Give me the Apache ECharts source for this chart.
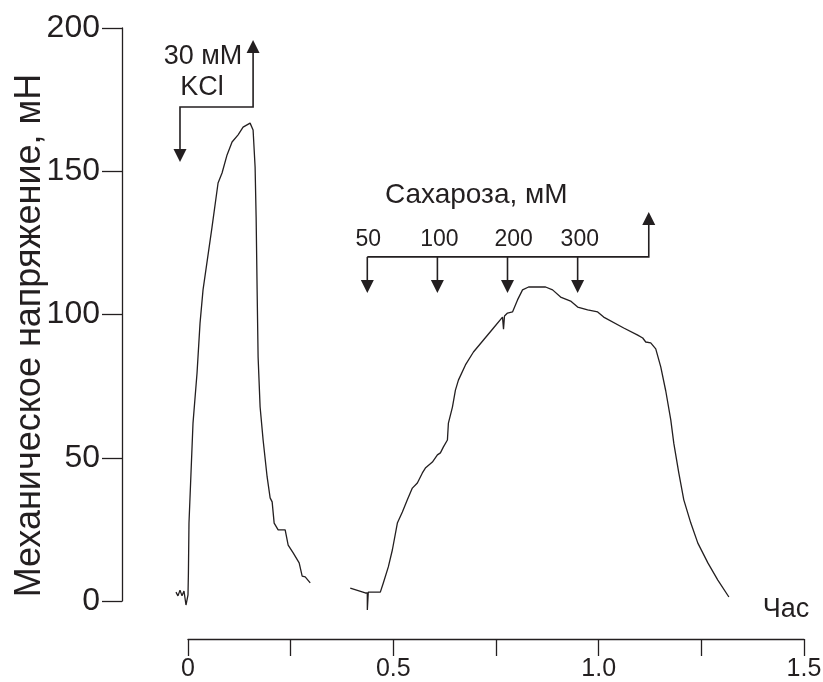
<!DOCTYPE html>
<html>
<head>
<meta charset="utf-8">
<script src="https://cdn.jsdelivr.net/npm/echarts@6/dist/echarts.min.js"></script>
<style>html,body{margin:0;padding:0;background:#fff}#c{width:823px;height:682px}</style>
</head>
<body>
<div id="c"></div>
<script>
// ---- data (time in hours, force in mN) ----
const kclTime = [-0.0293,-0.0244,-0.0195,-0.0146,-0.0098,-0.0049,0.0000,0.0010,0.0024,0.0073,0.0122,0.0220,0.0293,0.0366,0.0585,0.0732,0.0829,0.0951,0.1073,0.1220,0.1341,0.1512,0.1537,0.1585,0.1634,0.1659,0.1683,0.1707,0.1756,0.1829,0.1927,0.2000,0.2049,0.2098,0.2195,0.2366,0.2439,0.2561,0.2707,0.2780,0.2854,0.2976];
const kclForce = [3.1,1.8,3.8,1.8,3.5,-1.4,2.1,9.8,27.2,44.7,62.1,79.6,97.0,108.6,130.5,145.9,149.4,155.7,160.2,162.7,165.4,166.8,166.8,164.4,151.5,134.0,108.6,85.2,67.7,56.2,43.3,36.0,34.6,27.2,24.8,24.8,19.5,16.8,13.3,8.7,8.4,6.3];

const sucTime = [0.3951,0.4317,0.4366,0.4367,0.4390,0.4683,0.4756,0.4878,0.4976,0.5098,0.5220,0.5341,0.5463,0.5585,0.5707,0.5780,0.5951,0.6073,0.6146,0.6220,0.6317,0.6341,0.6439,0.6512,0.6585,0.6756,0.6951,0.7195,0.7439,0.7659,0.7683,0.7707,0.7780,0.7902,0.8024,0.8146,0.8293,0.8415,0.8707,0.8878,0.9073,0.9317,0.9488,0.9732,0.9976,1.0122,1.0610,1.0951,1.1073,1.1098,1.1146,1.1268,1.1390,1.1512,1.1634,1.1756,1.1829,1.1951,1.2073,1.2244,1.2415,1.2659,1.2902,1.3171];
const sucForce = [4.5,2.8,2.8,-3.1,3.1,3.1,6.3,11.9,17.8,27.2,31.1,35.3,39.4,41.2,44.7,46.4,48.5,51.0,51.7,53.8,56.2,62.1,67.7,73.6,77.1,82.4,86.9,91.1,95.3,99.1,94.9,99.5,100.5,100.9,105.1,108.6,109.6,109.6,109.6,108.6,106.1,104.7,102.6,101.6,100.9,99.1,95.3,92.8,91.8,92.1,90.4,90.1,88.0,81.7,73.3,63.2,55.1,44.7,35.3,27.2,20.2,13.3,7.3,1.4];

const xTickLabels = {0: '0', 0.5: '0.5', 1: '1.0', 1.5: '1.5'};

// annotation anchors (data coordinates)
const kclArrowTimes = [-0.0195, 0.1585];     // down arrow, up arrow
const kclArrowLevels = [172.4, 153.2, 195.8]; // bracket line, down tip, up tip
const kclLabels = ['30 мМ', 'KCl'];
const kclLabelPos = [[0.0366, 190.2], [0.0340, 179.1]];

const sucDoses = ['50', '100', '200', '300'];
const sucArrowTimes = [0.4366, 0.6073, 0.7780, 0.9488];
const sucLabelTimes = [0.4390, 0.6120, 0.7930, 0.9540];
const sucUpTime = 1.1220;
const sucArrowLevels = [120.1, 107.5, 135.8, 126.0]; // line, down tip, up tip, label level
const sucTitle = 'Сахароза, мМ';
const sucTitlePos = [0.7020, 141.7];

const xName = 'Час';
const xNamePos = [1.456, -3.1];
const yName = 'Механическое напряжение, мН';

// ---- layout ----
const W = 823, GL = 188, GR = 19, YOFF = 66, GT = 28, GB = 81;
const X_MAX = 1.5;
// data grid starts where the (offset) y axis sits, same scale as the drawn x axis
const X_MIN_DATA = -YOFF * X_MAX / (W - GL - GR);

const INK = '#231f20';
const FONT = '"Liberation Sans", Arial, sans-serif';
const zip = (a, b) => a.map((v, i) => [v, b[i]]);

const chart = echarts.init(document.getElementById('c'), null, {renderer: 'canvas'});
chart.setOption({
  animation: false,
  backgroundColor: '#fff',
  grid: [
    {left: GL, right: GR, top: GT, bottom: GB, containLabel: false, outerBoundsMode: 'none'},
    {left: GL - YOFF, right: GR, top: GT, bottom: GB, containLabel: false, outerBoundsMode: 'none'}
  ],
  xAxis: [{
    gridIndex: 0, type: 'value', min: 0, max: X_MAX, interval: 0.25, offset: 38,
    splitLine: {show: false},
    axisLine: {show: true, onZero: false, lineStyle: {color: INK, width: 1.3}},
    axisTick: {show: true, length: 17, lineStyle: {color: INK, width: 1.3}},
    axisLabel: {
      show: true, margin: 18, color: INK, fontSize: 25, fontFamily: FONT,
      showMaxLabel: true, showMinLabel: true,
      formatter: v => (xTickLabels[v] !== undefined ? xTickLabels[v] : '')
    }
  }, {
    gridIndex: 1, type: 'value', min: X_MIN_DATA, max: X_MAX, show: false,
    splitLine: {show: false}
  }],
  yAxis: [{
    gridIndex: 0, type: 'value', min: 0, max: 200, interval: 50, offset: YOFF,
    name: yName, nameLocation: 'middle', nameRotate: 90, nameGap: 74, nameMoveOverlap: false,
    nameTextStyle: {color: INK, fontSize: 36, fontFamily: FONT, padding: [0, 42, 0, 0]},
    splitLine: {show: false},
    axisLine: {show: true, onZero: false, lineStyle: {color: INK, width: 1.3}},
    axisTick: {show: true, length: 20, lineStyle: {color: INK, width: 1.3}},
    axisLabel: {show: true, margin: 22, color: INK, fontSize: 32, fontFamily: FONT}
  }, {
    gridIndex: 1, type: 'value', min: 0, max: 200, show: false, splitLine: {show: false}
  }],
  series: [
    {type: 'line', xAxisIndex: 1, yAxisIndex: 1, data: zip(kclTime, kclForce), showSymbol: false, clip: false,
     lineStyle: {color: INK, width: 1.3}},
    {type: 'line', xAxisIndex: 1, yAxisIndex: 1, data: zip(sucTime, sucForce), showSymbol: false, clip: false,
     lineStyle: {color: INK, width: 1.3}}
  ]
});

const px = (t, v) => chart.convertToPixel({gridIndex: 1}, [t, v]);
const g = [];
const AW = 6.5, AH = 13;
function down(x, yTip) {
  g.push({type: 'polygon', shape: {points: [[x - AW, yTip - AH], [x + AW, yTip - AH], [x, yTip]]}, style: {fill: INK}});
}
function up(x, yTip) {
  g.push({type: 'polygon', shape: {points: [[x - AW, yTip + AH], [x + AW, yTip + AH], [x, yTip]]}, style: {fill: INK}});
}
function line(pts) {
  g.push({type: 'polyline', shape: {points: pts}, style: {stroke: INK, lineWidth: 1.6, fill: null}});
}
function text(str, p, size) {
  g.push({type: 'text', x: p[0], y: p[1], style: {text: str, fill: INK, fontSize: size, fontFamily: FONT,
    align: 'center', verticalAlign: 'middle', textAlign: 'center', textVerticalAlign: 'middle'}});
}

// KCl bracket
{
  const a = px(kclArrowTimes[0], kclArrowLevels[0]);
  const b = px(kclArrowTimes[1], kclArrowLevels[0]);
  const dt = px(kclArrowTimes[0], kclArrowLevels[1]);
  const ut = px(kclArrowTimes[1], kclArrowLevels[2]);
  line([[a[0], dt[1] - AH + 1], [a[0], a[1]], [b[0], b[1]], [b[0], ut[1] + AH - 1]]);
  down(a[0], dt[1]);
  up(b[0], ut[1]);
  kclLabels.forEach((s, i) => text(s, px(kclLabelPos[i][0], kclLabelPos[i][1]), 27));
}
// Sucrose bracket
{
  const lineY = px(0, sucArrowLevels[0])[1];
  const tipY = px(0, sucArrowLevels[1])[1];
  const upY = px(0, sucArrowLevels[2])[1];
  const x0 = px(sucArrowTimes[0], 0)[0];
  const xu = px(sucUpTime, 0)[0];
  line([[x0, lineY], [xu, lineY], [xu, upY + AH - 1]]);
  up(xu, upY);
  sucArrowTimes.forEach(t => {
    const x = px(t, 0)[0];
    line([[x, lineY], [x, tipY - AH + 1]]);
    down(x, tipY);
  });
  sucDoses.forEach((s, i) => text(s, px(sucLabelTimes[i], sucArrowLevels[3]), 23));
  text(sucTitle, px(sucTitlePos[0], sucTitlePos[1]), 28);
}
text(xName, px(xNamePos[0], xNamePos[1]), 27);

chart.setOption({graphic: {elements: g}});
</script>
</body>
</html>
